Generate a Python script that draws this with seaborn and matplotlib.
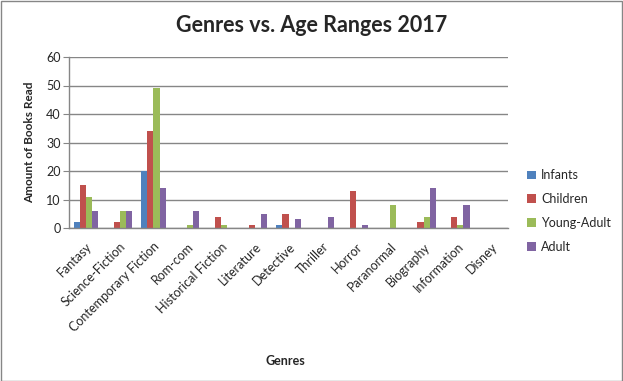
import matplotlib
matplotlib.use("Agg")
import matplotlib.pyplot as plt
import seaborn as sns
import pandas as pd
from matplotlib.patches import Patch, Rectangle

genres = ["Fantasy", "Science-Fiction", "Contemporary Fiction", "Rom-com",
          "Historical Fiction", "Literature", "Detective", "Thriller", "Horror",
          "Paranormal", "Biography", "Information", "Disney"]
infants = [2, 0, 20, 0, 0, 0, 1, 0, 0, 0, 0, 0, 0]
children = [15, 2, 34, 0, 4, 1, 5, 0, 13, 0, 2, 4, 0]
young_adult = [11, 6, 49, 1, 1, 0, 0, 0, 0, 8, 4, 1, 0]
adult = [6, 6, 14, 6, 0, 5, 3, 4, 1, 0, 14, 8, 0]
series_names = ["Infants", "Children", "Young-Adult", "Adult"]
colors = ["#4F81BD", "#C0504D", "#9BBB59", "#8064A2"]
yticks = [0, 10, 20, 30, 40, 50, 60]

rows = []
for name, vals in zip(series_names, [infants, children, young_adult, adult]):
    for g, v in zip(genres, vals):
        rows.append({"Genre": g, "Series": name, "Value": v})
df = pd.DataFrame(rows)

sns.set_style("white")
plt.rcParams["font.family"] = ["Lato", "DejaVu Sans"]

fig = plt.figure(figsize=(6.23, 3.81), dpi=100)
ax = fig.add_axes([69 / 623, 1 - 228 / 381, (508 - 69) / 623, (228 - 57) / 381])

sns.barplot(data=df, x="Genre", y="Value", hue="Series", order=genres,
            hue_order=series_names, palette=colors, width=0.72,
            saturation=1, ax=ax, legend=False, linewidth=0)

ax.set_ylim(0, 60)
ax.set_xlim(-0.5, len(genres) - 0.5)
ax.set_yticks(yticks)
ax.set_yticklabels([str(t) for t in yticks], fontsize=9)
ax.yaxis.grid(True, color="#868686", linewidth=1)
ax.set_axisbelow(True)
for s in ["top", "right"]:
    ax.spines[s].set_visible(False)
for s in ["left", "bottom"]:
    ax.spines[s].set_color("#868686")
    ax.spines[s].set_linewidth(1)
ax.tick_params(axis="y", length=4, color="#868686", pad=2, direction="out", left=True)
ax.tick_params(axis="x", length=0, pad=9)
ax.set_xticks(range(len(genres)))
ax.set_xticklabels(genres, rotation=45, ha="right", rotation_mode="anchor", fontsize=9)

ax.set_xlabel("Genres", fontsize=9, fontweight="bold", labelpad=14)
ax.set_ylabel("Amount of Books Read", fontsize=8.5, fontweight="bold", labelpad=8)
ax.xaxis.set_label_coords((285 - 69) / (508 - 69), -(355 - 228) / (228 - 57))

fig.text(0.5, 1 - 25 / 381, "Genres vs. Age Ranges 2017", ha="center", va="center",
         fontsize=15.5, fontweight="bold")

handles = [Patch(facecolor=c, edgecolor="none") for c in colors]
fig.legend(handles, series_names, loc="upper left",
           bbox_to_anchor=(516 / 623, 1 - 158 / 381), frameon=False,
           fontsize=9, handlelength=0.7, handleheight=0.7, handletextpad=0.4,
           labelspacing=0.95)

fig.patches.append(Rectangle((0.001, 0.001), 0.997, 0.997, transform=fig.transFigure,
                             fill=False, edgecolor="#868686", linewidth=1))

fig.savefig("out.png", dpi=100)
